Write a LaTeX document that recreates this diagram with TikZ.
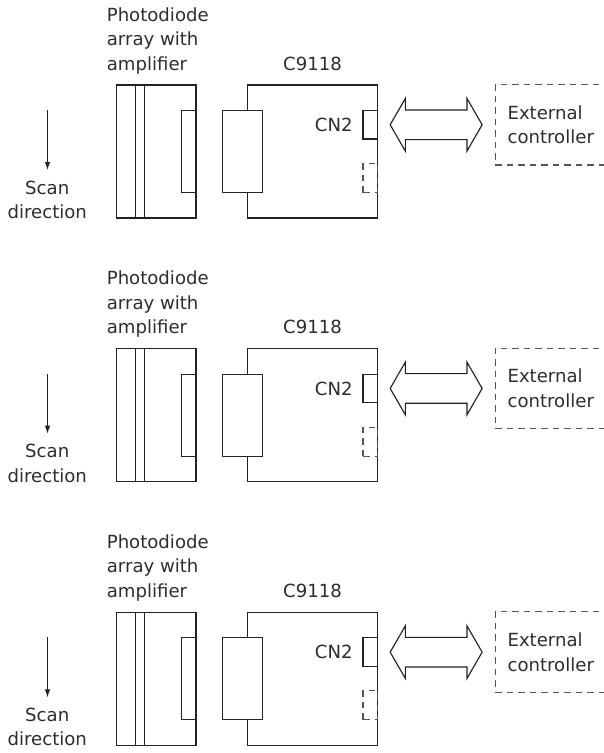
\documentclass[tikz,border=0pt]{standalone}
\usepackage{fontspec}
\setmainfont{DejaVu Sans}
\usetikzlibrary{arrows.meta,positioning,shapes.arrows,calc}
\definecolor{linegray}{RGB}{35,35,35}
\definecolor{textgray}{RGB}{45,45,45}
\definecolor{dashgray}{RGB}{85,85,85}

\begin{document}
\begin{tikzpicture}[
  x=1mm,y=1mm,
  font=\fontsize{10.3}{13.9}\selectfont,
  text=textgray,
  part/.style={draw=linegray,line width=0.65pt,fill=white,inner sep=0pt,outer sep=0pt},
  dpart/.style={draw=dashgray,line width=0.65pt,dash pattern=on 1.3mm off 1mm,inner sep=0pt,outer sep=0pt},
  lbl/.style={inner sep=0pt,align=left},
  link/.style={double arrow,draw=linegray,line width=0.65pt,fill=white,inner xsep=0pt,inner ysep=2.85mm,
    minimum height=18.4mm,double arrow head extend=2.3mm,double arrow tip angle=120},
  scan/.style={-{Latex[length=1.6mm,width=1.1mm]},draw=linegray,line width=0.6pt}
]
\useasboundingbox (0,0) rectangle (120.8,-150.6);
% three identical set-ups, one under the other
\foreach \i in {0,1,2}{
\begin{scope}[yshift=-\i*52.74mm]
  % sensor head
  \node[part,minimum width=15.9mm,minimum height=26.6mm] (pd\i) at (31.25,-30.3) {};
  \draw[linegray,line width=0.65pt] ($(pd\i.north west)+(3.8,0)$) -- ($(pd\i.south west)+(3.8,0)$)
    ($(pd\i.north west)+(5.6,0)$) -- ($(pd\i.south west)+(5.6,0)$);
  \node[part,anchor=east,minimum width=2.9mm,minimum height=16.4mm] (win\i) at (pd\i.east) {};
  % driver board
  \node[part,right=10.3mm of pd\i,minimum width=26mm,minimum height=26.6mm] (board\i) {};
  \node[part,anchor=east,minimum width=8mm,minimum height=16.4mm] (plug\i) at ($(board\i.west)+(3,0)$) {};
  \node[part,anchor=north east,minimum width=2.9mm,minimum height=5.7mm] (cn\i) at ($(board\i.north east)+(0,-5.1)$) {};
  \node[dpart,anchor=south east,minimum width=2.9mm,minimum height=5.8mm] (opt\i) at ($(board\i.south east)+(0,5.1)$) {};
  \node[lbl,left=2mm of cn\i] (cnlbl\i) {CN2};
  % link to the controller
  \node[link,right=2.4mm of cn\i] (io\i) {};
  \node[dpart,right=2.5mm of io\i,minimum width=21.9mm,minimum height=16.1mm,text width=17mm,inner xsep=2.45mm,align=left] (ext\i) {External\\controller};
  % labels
  \node[lbl,anchor=base west] (pdlbl\i) at ($(pd\i.north west)+(-2,3)$) {Photodiode\\array with\\amplifier};
  \node[lbl,anchor=base] (boardlbl\i) at ($(board\i.north)+(0,3)$) {C9118};
  \coordinate (scantop\i) at (9.5,-22);
  \coordinate (scanend\i) at (9.5,-34);
  \draw[scan] (scantop\i) -- (scanend\i);
  \node[lbl,align=center,anchor=base] (scanlbl\i) at (9.45,-43.7) {Scan\\direction};
\end{scope}
}
\end{tikzpicture}
\end{document}
